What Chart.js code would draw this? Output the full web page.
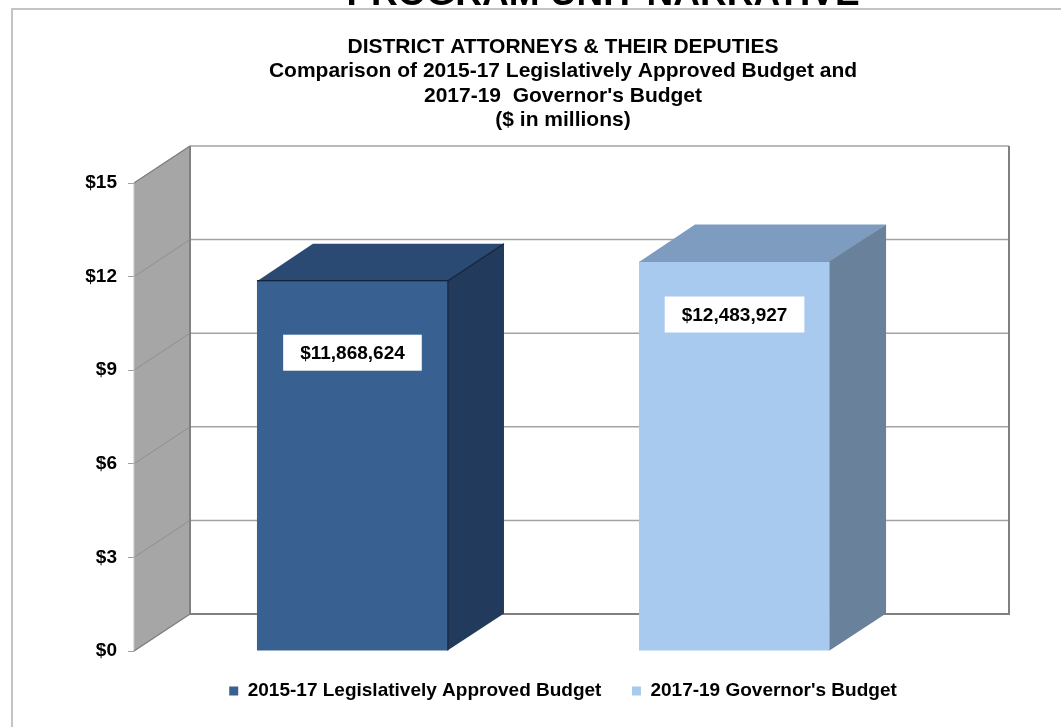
<!DOCTYPE html>
<html>
<head>
<meta charset="utf-8">
<script src="https://cdn.jsdelivr.net/npm/chart.js@4.4.1/dist/chart.umd.min.js"></script>
<style>
  html, body { margin: 0; padding: 0; background: #ffffff; overflow: hidden; }
  canvas { display: block; }
</style>
</head>
<body>
<canvas id="budgetChart" width="1061" height="727"></canvas>
<script>
// ---- chart data ----
const pageHeading = 'PROGRAM UNIT NARRATIVE';
const titleLines = [
  'DISTRICT ATTORNEYS & THEIR DEPUTIES',
  'Comparison of 2015-17 Legislatively Approved Budget and',
  "2017-19  Governor's Budget",
  '($ in millions)'
];
const categories = ['District Attorneys & Their Deputies'];
const seriesNames = ['2015-17 Legislatively Approved Budget', "2017-19 Governor's Budget"];
const budgetDollars = [11868624, 12483927];
const tickValues = [0, 3, 6, 9, 12, 15];
const tickLabels = ['$0', '$3', '$6', '$9', '$12', '$15'];

// ---- colours for the three visible faces of each bar ----
const frontColors = ['#386192', '#a8caef'];
const topColors = ['#2b4a73', '#7e9cbf'];
const sideColors = ['#223b5d', '#6a819b'];
const edgeColors = ['#142338', null];

const FONT = '"Liberation Sans", Arial, Helvetica, sans-serif';
Chart.defaults.font.family = FONT;

function fillPoly(ctx, pts, color) {
  ctx.beginPath();
  ctx.moveTo(pts[0][0], pts[0][1]);
  for (let k = 1; k < pts.length; k++) ctx.lineTo(pts[k][0], pts[k][1]);
  ctx.closePath();
  ctx.fillStyle = color;
  ctx.fill();
}

function line(ctx, pts, color, w) {
  ctx.beginPath();
  ctx.moveTo(pts[0][0], pts[0][1]);
  for (let k = 1; k < pts.length; k++) ctx.lineTo(pts[k][0], pts[k][1]);
  ctx.strokeStyle = color;
  ctx.lineWidth = w;
  ctx.stroke();
}

// Draws the walls, the depth of the bars and the value boxes.
const depthPlugin = {
  id: 'depth3d',
  beforeDraw(chart) {
    const { ctx } = chart;
    ctx.save();
    // page frame
    line(ctx, [[12, 730], [12, 9], [1062, 9]], '#c4c4c4', 2);
    // page heading (runs off the top of the page)
    ctx.fillStyle = '#000';
    ctx.font = 'bold 37px ' + FONT;
    ctx.textAlign = 'center';
    ctx.textBaseline = 'alphabetic';
    ctx.fillText(pageHeading, 603, 4.5);
    ctx.restore();
  },
  beforeDatasetsDraw(chart, args, o) {
    const { ctx, chartArea: a, scales: { y } } = chart;
    const dx = o.dx, dy = o.dy;
    const yTop = y.getPixelForValue(y.max);
    const yBot = y.getPixelForValue(y.min);
    const L = a.left, R = a.right;
    ctx.save();
    // left side wall
    fillPoly(ctx, [[L, yBot], [L, yTop], [L + dx, yTop + dy], [L + dx, yBot + dy]], '#a6a6a6');
    tickValues.forEach(v => {
      const py = y.getPixelForValue(v);
      line(ctx, [[L, py], [L + dx, py + dy]], '#909090', 1);
    });
    line(ctx, [[L, yBot], [L, yTop]], '#c2c2c2', 1);
    line(ctx, [[L, yTop], [L + dx, yTop + dy]], '#808080', 1.2);
    line(ctx, [[L, yBot], [L + dx, yBot + dy]], '#808080', 1.2);
    // back wall gridlines
    tickValues.forEach(v => {
      const py = y.getPixelForValue(v) + dy;
      line(ctx, [[L + dx, py], [R + dx, py]], '#a3a3a3', 1.5);
    });
    // back wall edges
    line(ctx, [[L + dx, yTop + dy], [L + dx, yBot + dy], [R + dx, yBot + dy], [R + dx, yTop + dy]], '#808080', 2);
    ctx.restore();
  },
  afterDatasetsDraw(chart, args, o) {
    const { ctx } = chart;
    const dx = o.dx, dy = o.dy;
    ctx.save();
    chart.data.datasets.forEach((ds, i) => {
      const meta = chart.getDatasetMeta(i);
      meta.data.forEach((bar, j) => {
        const { x, y, base, width } = bar.getProps(['x', 'y', 'base', 'width'], true);
        const l = x - width / 2, r = x + width / 2;
        fillPoly(ctx, [[l, y + 0.5], [r + 0.5, y + 0.5], [r + dx, y + dy], [l + dx, y + dy]], topColors[i]);
        fillPoly(ctx, [[r - 0.5, y], [r + dx, y + dy], [r + dx, base + dy], [r - 0.5, base]], sideColors[i]);
        if (edgeColors[i]) {
          line(ctx, [[l, y], [r, y], [r + dx, y + dy]], edgeColors[i], 1.2);
          line(ctx, [[r, y], [r, base]], edgeColors[i], 1);
        }
        // value box
        const text = '$' + ds.dollars[j].toLocaleString('en-US');
        ctx.font = 'bold 19px ' + FONT;
        const tw = ctx.measureText(text).width;
        const bw = tw + 34, bh = 36;
        const cy = y + o.labelDrop[i];
        ctx.fillStyle = '#ffffff';
        ctx.fillRect(x - bw / 2, cy - bh / 2, bw, bh);
        ctx.fillStyle = '#000';
        ctx.textAlign = 'center';
        ctx.textBaseline = 'middle';
        ctx.fillText(text, x, cy + 1);
      });
    });
    ctx.restore();
  }
};

const datasets = seriesNames.map((name, i) => ({
  label: name,
  data: [budgetDollars[i] / 1e6],
  dollars: [budgetDollars[i]],
  backgroundColor: frontColors[i],
  borderWidth: 0
}));

new Chart(document.getElementById('budgetChart'), {
  type: 'bar',
  data: { labels: categories, datasets },
  plugins: [depthPlugin],
  options: {
    responsive: false,
    animation: false,
    devicePixelRatio: 1,
    layout: { padding: { left: 65, right: 0, top: 0, bottom: 16.5 } },
    datasets: { bar: { categoryPercentage: 0.933, barPercentage: 0.5 } },
    scales: {
      x: { display: false },
      y: {
        min: 0,
        max: 15,
        afterBuildTicks(s) { s.ticks = tickValues.map(v => ({ value: v })); },
        ticks: {
          callback: v => tickLabels[tickValues.indexOf(v)],
          font: { size: 19, weight: 'bold' },
          color: '#000',
          padding: 11
        },
        grid: { drawOnChartArea: false, drawTicks: true, tickLength: 6, color: '#a0a0a0' },
        border: { display: false },
        afterFit(s) { s.width = 69; }
      },
      depthSpace: {
        position: 'right',
        ticks: { display: false },
        grid: { display: false },
        border: { display: false },
        afterFit(s) { s.width = 108; }
      }
    },
    plugins: {
      title: {
        display: true,
        text: titleLines,
        color: '#000',
        font: { size: 21, weight: 'bold', lineHeight: 1.1667 },
        padding: { top: 34.75, bottom: 50.25 }
      },
      legend: {
        position: 'bottom',
        labels: {
          color: '#000',
          font: { size: 19, weight: 'bold', lineHeight: 1 },
          boxWidth: 9,
          boxHeight: 9,
          padding: 30.5
        }
      },
      tooltip: { enabled: false },
      depth3d: { dx: 56, dy: -37, labelDrop: [72, 53] }
    }
  }
});
</script>
</body>
</html>
